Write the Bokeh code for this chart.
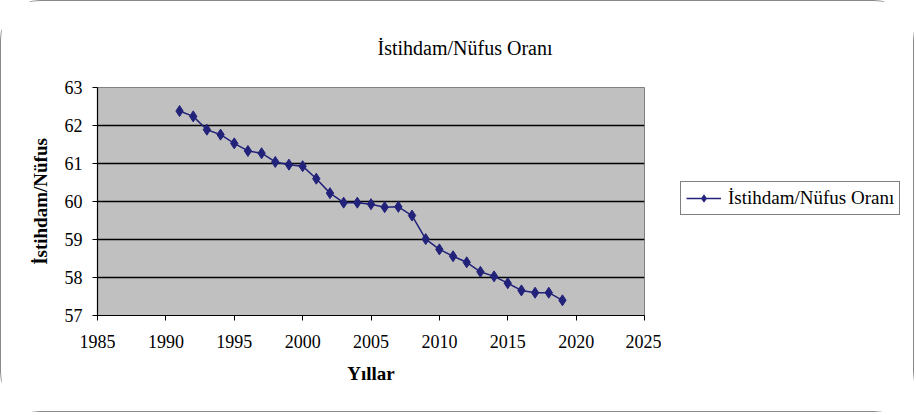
from bokeh.plotting import figure
from bokeh.models import Legend, LegendItem, Range1d, FixedTicker
from bokeh.layouts import row
from bokeh.embed import file_html
from bokeh.resources import INLINE

years = list(range(1991, 2020))
ratio = [62.38, 62.24, 61.89, 61.76, 61.53, 61.33, 61.27, 61.04, 60.97, 60.93,
         60.60, 60.22, 59.97, 59.97, 59.93, 59.85, 59.86, 59.63, 59.01, 58.74,
         58.56, 58.40, 58.15, 58.03, 57.85, 57.66, 57.60, 57.60, 57.40]
x_ticks = [1985, 1990, 1995, 2000, 2005, 2010, 2015, 2020, 2025]
y_ticks = [57, 58, 59, 60, 61, 62, 63]
title_text = "İstihdam/Nüfus Oranı"
series_name = "İstihdam/Nüfus Oranı"
x_label = "Yıllar"
y_label = "İstihdam/Nüfus"

FONT = "Liberation Serif"
COLOR = "#22227a"
H = 410

p = figure(width=660, height=H, output_backend="svg", toolbar_location=None,
           x_range=Range1d(1985, 2025), y_range=Range1d(57, 63),
           min_border_left=96, min_border_right=17, min_border_top=86, min_border_bottom=96)

p.title.text = title_text
p.title.align = "left"
p.title.offset = 280
p.title.text_font = FONT
p.title.text_font_size = "20px"
p.title.text_font_style = "normal"
p.title.text_color = "black"
p.title.standoff = 58

p.background_fill_color = "#c0c0c0"
p.border_fill_color = "white"
p.outline_line_color = "#808080"
p.outline_line_width = 1

p.xgrid.grid_line_color = None
p.ygrid.grid_line_color = "black"
p.ygrid.grid_line_width = 1.5
p.ygrid.ticker = FixedTicker(ticks=y_ticks)

for ax in (p.xaxis, p.yaxis):
    ax.axis_line_color = "black"
    ax.axis_line_width = 1.2
    ax.major_tick_in = 0
    ax.major_tick_out = 5
    ax.major_tick_line_color = "black"
    ax.minor_tick_line_color = None
    ax.major_label_text_font = FONT
    ax.major_label_text_font_size = "18px"
    ax.major_label_text_color = "black"
    ax.axis_label_text_font = FONT
    ax.axis_label_text_font_size = "19px"
    ax.axis_label_text_font_style = "bold"
    ax.axis_label_text_color = "black"

p.xaxis.ticker = FixedTicker(ticks=x_ticks)
p.yaxis.ticker = FixedTicker(ticks=y_ticks)
p.xaxis.axis_label = x_label
p.yaxis.axis_label = y_label
p.xaxis.major_label_standoff = 14
p.xaxis.axis_label_standoff = 12
p.yaxis.major_label_standoff = 10
p.yaxis.axis_label_standoff = 11

p.line(years, ratio, line_color=COLOR, line_width=1.5)
p.scatter(years, ratio, marker="diamond", size=11, fill_color=COLOR, line_color=COLOR)

# Legend panel: a separate figure so the legend can sit outside the plot frame.
# Its ranges are set so that its copy of the series stays out of view; only the legend shows.
lf = figure(width=252, height=H, output_backend="svg", toolbar_location=None,
            x_axis_type=None, y_axis_type=None,
            x_range=Range1d(0, 1), y_range=Range1d(0, 1),
            min_border_left=0, min_border_right=0, min_border_top=86, min_border_bottom=96)
lf.outline_line_color = None
lf.background_fill_color = "white"
lf.border_fill_color = "white"
lf.xgrid.grid_line_color = None
lf.ygrid.grid_line_color = None
lg_line = lf.line(years, ratio, line_color=COLOR, line_width=1.5)
lg_mark = lf.scatter(years, ratio, marker="diamond", size=11, fill_color=COLOR, line_color=COLOR)

legend = Legend(items=[LegendItem(label=series_name, renderers=[lg_line, lg_mark])],
                location=(19, 100), margin=0)
legend.label_text_font = FONT
legend.label_text_font_size = "19px"
legend.label_text_color = "black"
legend.border_line_color = "black"
legend.border_line_width = 1
legend.padding = 5
legend.spacing = 0
legend.glyph_width = 35
legend.glyph_height = 18
legend.label_height = 18
legend.label_standoff = 7
legend.background_fill_color = "white"
lf.add_layout(legend, "center")

layout = row(p, lf)
layout.styles = {"border": "1px solid #8a8a8a", "border-radius": "40px"}

open("out.html", "w").write(file_html(layout, INLINE))
